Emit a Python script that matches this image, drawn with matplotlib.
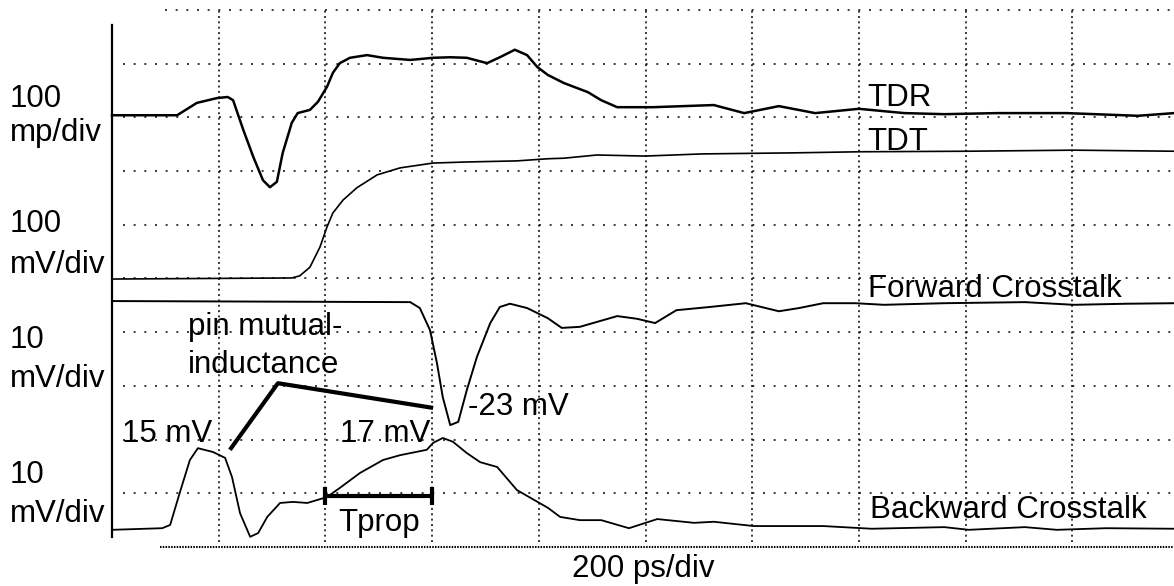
import matplotlib
matplotlib.use("Agg")
import matplotlib.pyplot as plt
from matplotlib.transforms import Affine2D

plt.rcParams['font.family'] = ['Liberation Sans', 'DejaVu Sans']
plt.rcParams['lines.scale_dashes'] = False

# ---------------- data (time in ps, amplitude in screen divisions) -------------
PS_PER_DIV = 200

tdr_t = [0, 122, 159, 197, 217, 227, 246, 265, 283, 296, 309, 320, 337, 348, 371, 386,
         403, 414, 427, 446, 478, 508, 559, 602, 634, 665, 703, 727, 755, 778, 797, 817,
         847, 892, 917, 947, 1014, 1128, 1185, 1250, 1318, 1400, 1485, 1560, 1659, 1789,
         1923, 1991]
tdr_v = [8.04, 8.04, 8.27, 8.36, 8.38, 8.32, 7.77, 7.26, 6.83, 6.70, 6.80, 7.34, 7.90, 8.08,
         8.14, 8.29, 8.57, 8.83, 9.01, 9.11, 9.16, 9.11, 9.07, 9.11, 9.12, 9.11, 9.01, 9.12,
         9.26, 9.16, 8.94, 8.79, 8.64, 8.47, 8.32, 8.19, 8.19, 8.23, 8.08, 8.21, 8.08, 8.16,
         8.08, 8.06, 8.08, 8.08, 8.03, 8.08]

tdt_t = [0, 337, 352, 371, 390, 403, 414, 433, 459, 497, 540, 602, 665, 759, 817, 847,
         909, 999, 1106, 1280, 1402, 1603, 1803, 1991]
tdt_v = [4.99, 5.01, 5.05, 5.21, 5.59, 5.96, 6.22, 6.46, 6.69, 6.93, 7.06, 7.15, 7.17,
         7.19, 7.23, 7.24, 7.30, 7.28, 7.32, 7.34, 7.36, 7.37, 7.39, 7.37]

fwd_t = [0, 559, 577, 596, 609, 620, 634, 649, 665, 684, 709, 727, 746, 778, 817, 843,
         877, 947, 984, 1018, 1058, 1121, 1188, 1250, 1288, 1333, 1393, 1447, 1560, 1711,
         1803, 1901, 1991]
fwd_v = [4.58, 4.56, 4.45, 4.04, 3.43, 2.79, 2.27, 2.33, 2.92, 3.54, 4.17, 4.47, 4.53,
         4.45, 4.26, 4.08, 4.10, 4.30, 4.25, 4.17, 4.41, 4.47, 4.54, 4.39, 4.45, 4.54,
         4.54, 4.51, 4.54, 4.56, 4.51, 4.53, 4.54]

bwd_t = [0, 94, 109, 127, 146, 161, 189, 212, 225, 240, 259, 274, 291, 315, 339, 366,
         403, 427, 465, 508, 540, 590, 602, 620, 639, 665, 690, 722, 759, 817, 840, 877,
         917, 969, 1022, 1091, 1128, 1203, 1333, 1424, 1560, 1606, 1711, 1771, 1863, 1991]
bwd_v = [0.32, 0.35, 0.41, 1.01, 1.62, 1.84, 1.77, 1.66, 1.30, 0.63, 0.19, 0.26, 0.56,
         0.82, 0.84, 0.82, 0.93, 1.10, 1.38, 1.62, 1.71, 1.81, 1.94, 2.03, 1.96, 1.75,
         1.58, 1.49, 1.06, 0.73, 0.56, 0.50, 0.50, 0.35, 0.52, 0.45, 0.47, 0.39, 0.39,
         0.34, 0.37, 0.32, 0.37, 0.32, 0.35, 0.34]

pointer_t = [221, 311, 602]
pointer_v = [1.81, 3.05, 2.59]

tprop_start, tprop_end, tprop_level = 400, 600, 0.95

scale_labels = [["100", "mp/div"], ["100", "mV/div"], ["10", "mV/div"], ["10", "mV/div"]]

# ---------------- figure ------------------------------------------------------
W, H = 1174, 586
X0, XDIV = 112, 106.7
Y0, YDIV = 547, 53.7

fig = plt.figure(figsize=(W / 100, H / 100), dpi=100)
ax = fig.add_axes([0, 0, 1, 1])
ax.set_xlim(-X0 / XDIV * PS_PER_DIV, (W - X0) / XDIV * PS_PER_DIV)
ax.set_ylim(-(H - Y0) / YDIV, Y0 / YDIV)
ax.axis('off')

t_right = (W - X0) / XDIV * PS_PER_DIV + 10

# grid
for k in range(1, 10):
    ax.plot([k * PS_PER_DIV] * 2, [0.09, 10], color='k', lw=1.1,
            ls=(0, (1.4, 2.45)), solid_capstyle='butt')
for k in range(1, 10):
    ax.plot([20, t_right], [k, k], color='k', lw=1.1, ls=(0, (1.4, 6.28)))
ax.plot([99, t_right], [10, 10], color='k', lw=1.1, ls=(0, (1.4, 6.28)))
ax.plot([90, t_right], [0, 0], color='k', lw=1.5, ls=(0, (1.1, 0.9)))
ax.plot([0, 0], [0.19, 9.72], color='k', lw=1.6)

# traces
ax.plot(tdr_t, tdr_v, color='k', lw=1.8)
ax.plot(tdt_t, tdt_v, color='k', lw=1.2)
ax.plot(fwd_t, fwd_v, color='k', lw=1.4)
ax.plot(bwd_t, bwd_v, color='k', lw=1.3)

# annotations
ax.plot(pointer_t, pointer_v, color='k', lw=3.0, solid_capstyle='butt')
ax.plot([tprop_start, tprop_end], [tprop_level, tprop_level], color='k', lw=3.0,
        solid_capstyle='butt')
for tt in (tprop_start, tprop_end):
    ax.plot([tt, tt], [tprop_level - 0.16, tprop_level + 0.16], color='k', lw=3.0,
            solid_capstyle='butt')

# text (pixel layout)
pix = Affine2D().scale(1, -1).translate(0, H)
FS = 22.5

def put(s, x, y):
    ax.text(x, y, s, transform=pix, fontsize=FS, ha='left', va='baseline', color='k')

label_baselines = [(107, 141), (232, 273), (348, 387), (483, 522)]
for (l1, l2), (b1, b2) in zip(scale_labels, label_baselines):
    put(l1, 10, b1)
    put(l2, 10, b2)

put("TDR", 867, 106)
put("TDT", 867, 150)
put("Forward Crosstalk", 868, 297)
put("Backward Crosstalk", 870, 518)
put("pin mutual-", 188, 335)
put("inductance", 188, 373)
put("15 mV", 122, 442)
put("17 mV", 340, 442)
put("-23 mV", 468, 415)
put("Tprop", 338, 531)
put("200 ps/div", 572, 577)

fig.savefig("out.png", dpi=100)
